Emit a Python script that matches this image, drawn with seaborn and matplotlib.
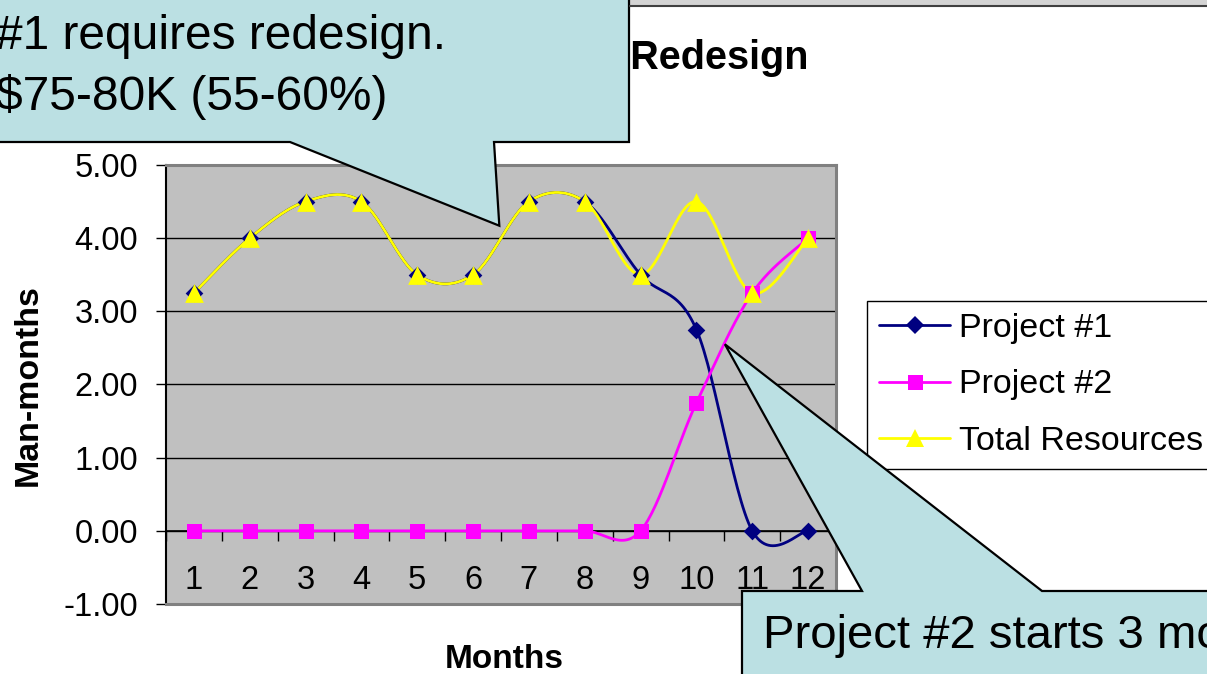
import numpy as np
import matplotlib
matplotlib.use("Agg")
import matplotlib.pyplot as plt
from matplotlib.lines import Line2D
from matplotlib.patches import Polygon, Rectangle
import seaborn as sns

# ---- data -------------------------------------------------------------
months = list(range(1, 13))
month_labels = [str(m) for m in months]
project1 = [3.25, 4.00, 4.50, 4.50, 3.50, 3.50, 4.50, 4.50, 3.50, 2.75, 0.00, 0.00]
project2 = [0.00, 0.00, 0.00, 0.00, 0.00, 0.00, 0.00, 0.00, 0.00, 1.75, 3.25, 4.00]
total = [3.25, 4.00, 4.50, 4.50, 3.50, 3.50, 4.50, 4.50, 3.50, 4.50, 3.25, 4.00]
series_names = ["Project #1", "Project #2", "Total Resources"]
y_ticks = [-1, 0, 1, 2, 3, 4, 5]

colors = ["#000080", "#FF00FF", "#FFFF00"]
markers = ["D", "s", "^"]
marker_sizes = [9.0, 10.8, 13.5]

FONT = ["Liberation Sans", "DejaVu Sans"]


def smooth(xs, ys, n=30):
    """Cubic Bezier smoothing through every point (spreadsheet-style smoothed line)."""
    x = np.asarray(xs, float)
    y = np.asarray(ys, float)
    xp = np.concatenate([[x[0]], x, [x[-1]]])
    yp = np.concatenate([[y[0]], y, [y[-1]]])
    t = np.linspace(0, 1, n + 1)[1:]
    ox, oy = [x[0]], [y[0]]
    for i in range(len(x) - 1):
        for arr, out in ((xp, ox), (yp, oy)):
            p0, p1 = arr[i + 1], arr[i + 2]
            c1 = p0 + (arr[i + 2] - arr[i]) / 6.0
            c2 = p1 - (arr[i + 3] - arr[i + 1]) / 6.0
            b = ((1 - t) ** 3) * p0 + 3 * ((1 - t) ** 2) * t * c1 \
                + 3 * (1 - t) * t ** 2 * c2 + t ** 3 * p1
            out.extend(b.tolist())
    return np.array(ox), np.array(oy)


sns.set_style("white")
plt.rcParams["font.family"] = FONT
for key in ("text.color", "axes.labelcolor", "xtick.color", "ytick.color"):
    plt.rcParams[key] = "black"

W, H = 1207, 674
fig = plt.figure(figsize=(W / 100, H / 100), dpi=100)
fig.patch.set_facecolor("white")

ax_l, ax_r, ax_t, ax_b = 166, 836, 165, 604
ax = fig.add_axes([ax_l / W, 1 - ax_b / H, (ax_r - ax_l) / W, (ax_b - ax_t) / H])
ax.set_facecolor("#C0C0C0")
ax.set_xlim(0.5, 12.5)
ax.set_ylim(-1, 5)

# plot-area border and value axis
for side in ("top", "right", "bottom"):
    ax.spines[side].set_color("#808080")
    ax.spines[side].set_linewidth(2.2)
ax.spines["left"].set_color("black")
ax.spines["left"].set_linewidth(1.5)

ax.set_yticks(y_ticks)
ax.set_yticklabels([f"{v:.2f}" for v in y_ticks])
ax.tick_params(axis="y", direction="out", length=7, width=1, color="black",
               pad=13, labelsize=23.5, left=True, labelcolor="black")
ax.set_xticks([])
ax.grid(axis="y", color="black", linewidth=1)
ax.grid(axis="x", visible=False)
ax.set_axisbelow(True)

# category axis drawn along y = 0
ax.axhline(0, color="black", linewidth=1.2, zorder=1)
bounds = np.arange(0.5, 13.0, 1.0)
ax.vlines(bounds, -0.135, 0, color="black", linewidth=1, zorder=1)
for m, lab in zip(months, month_labels):
    ax.text(m, -0.80, lab, ha="center", va="baseline", fontsize=23.5, color="black")

# series: smoothed lines plus markers
handles = []
for name, vals, c, mk, ms in zip(series_names, [project1, project2, total],
                                 colors, markers, marker_sizes):
    sx, sy = smooth(months, vals)
    sns.lineplot(x=sx, y=sy, color=c, linewidth=2.0, sort=False,
                 estimator=None, ax=ax, zorder=3)
    sns.scatterplot(x=months, y=vals, marker=mk, s=ms ** 2, color=c,
                    linewidth=0, ax=ax, zorder=4)
    handles.append(Line2D([], [], color=c, linewidth=2.0, marker=mk,
                          markersize=ms, markeredgewidth=0))

ax.set_xlabel("")
ax.set_ylabel("")

leg = ax.legend(handles, series_names, loc="upper left",
                bbox_to_anchor=(867 / W, 1 - 301 / H), bbox_transform=fig.transFigure,
                borderaxespad=0, frameon=True, fancybox=False, framealpha=1,
                edgecolor="black", facecolor="white", fontsize=24.5,
                handlelength=2.1, handletextpad=0.25, borderpad=0.35,
                labelspacing=0.75)
leg.get_frame().set_linewidth(1.0)
for t in leg.get_texts():
    t.set_color("black")

# titles
fig.text(808 / W, 1 - 58 / H, "Project #1 Redesign", ha="right", va="center",
         fontsize=28.5, fontweight="bold", color="black")
fig.text(504 / W, 1 - 660 / H, "Months", ha="center", va="center",
         fontsize=24, fontweight="bold", color="black")
fig.text(28 / W, 1 - 385 / H, "Man-months", ha="center", va="center",
         rotation=90, fontsize=24.5, fontweight="bold", color="black")

# ---- callouts (pixel overlay) ----------------------------------------
ov = fig.add_axes([0, 0, 1, 1], zorder=10)
ov.set_xlim(0, W)
ov.set_ylim(H, 0)
ov.axis("off")
ov.patch.set_alpha(0)


def to_px(x, y):
    dx, dy = ax.transData.transform((x, y))
    return dx, H - dy


# thin border strip along the top edge
ov.add_patch(Rectangle((630, -2), W - 630 + 5, 7, facecolor="#D4D4D4",
                       edgecolor="none"))
ov.plot([630, W + 5], [6, 6], color="#404040", linewidth=1.5)

callout_fill = "#BBE0E3"
tip1 = to_px(6.47, 4.17)
box1 = [(-20, -20), (629, -20), (629, 142), (494, 142), tip1, (290, 142), (-20, 142)]
ov.add_patch(Polygon(box1, closed=True, facecolor=callout_fill,
                     edgecolor="black", linewidth=1.6, clip_on=False))
ov.text(-4, 49, "#1 requires redesign.", ha="left", va="baseline", fontsize=34.5,
        color="black")
ov.text(-4, 110, "$75-80K (55-60%)", ha="left", va="baseline", fontsize=34.5,
        color="black")

tip2 = to_px(10.51, 2.55)
box2 = [(742, 591), (862, 591), tip2, (1042, 591), (W + 20, 591),
        (W + 20, H + 20), (742, H + 20)]
ov.add_patch(Polygon(box2, closed=True, facecolor=callout_fill,
                     edgecolor="black", linewidth=1.6, clip_on=False))
ov.text(763, 648, "Project #2 starts 3 months early", ha="left", va="baseline",
        fontsize=34, color="black")

fig.savefig("out.png", dpi=100)
